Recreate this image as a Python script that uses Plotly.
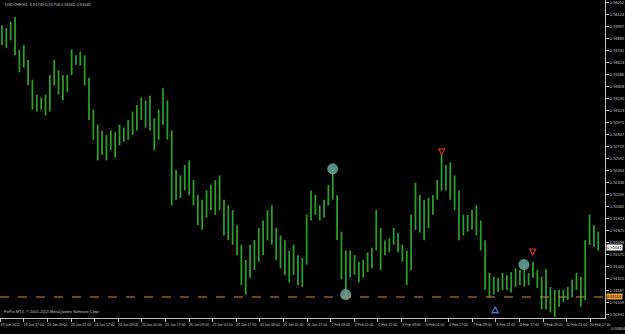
import plotly.graph_objects as go

highs = [0.9401, 0.9398, 0.9405, 0.9410, 0.9375, 0.9380, 0.9364, 0.9343, 0.9327, 0.9324,
         0.9327, 0.9348, 0.9364, 0.9353, 0.9348, 0.9348, 0.9375, 0.9369, 0.9373, 0.9369,
         0.9345, 0.9311, 0.9295, 0.9289, 0.9284, 0.9289, 0.9287, 0.9295, 0.9292, 0.9300,
         0.9309, 0.9316, 0.9324, 0.9321, 0.9326, 0.9302, 0.9311, 0.9334, 0.9321, 0.9289,
         0.9247, 0.9241, 0.9252, 0.9257, 0.9236, 0.9220, 0.9215, 0.9225, 0.9231, 0.9236,
         0.9241, 0.9215, 0.9209, 0.9204, 0.9188, 0.9167, 0.9151, 0.9167, 0.9172, 0.9185,
         0.9193, 0.9204, 0.9209, 0.9185, 0.9177, 0.9172, 0.9161, 0.9167, 0.9156, 0.9153,
         0.9199, 0.9225, 0.9220, 0.9209, 0.9215, 0.9231, 0.9247, 0.9220, 0.9181, 0.9161,
         0.9161, 0.9156, 0.9149, 0.9151, 0.9159, 0.9164, 0.9204, 0.9185, 0.9172, 0.9174,
         0.9185, 0.9180, 0.9167, 0.9161, 0.9199, 0.9233, 0.9220, 0.9215, 0.9217, 0.9220,
         0.9236, 0.9263, 0.9252, 0.9255, 0.9241, 0.9225, 0.9199, 0.9199, 0.9204, 0.9209,
         0.9193, 0.9172, 0.9137, 0.9133, 0.9132, 0.9137, 0.9135, 0.9138, 0.9142, 0.9140,
         0.9146, 0.9137, 0.9149, 0.9140, 0.9133, 0.9141, 0.9122, 0.9119, 0.9119, 0.9119,
         0.9122, 0.9130, 0.9137, 0.9133, 0.9172, 0.9199, 0.9188, 0.9181]
lows = [0.9380, 0.9377, 0.9385, 0.9369, 0.9351, 0.9356, 0.9337, 0.9311, 0.9309, 0.9311,
        0.9305, 0.9309, 0.9337, 0.9327, 0.9321, 0.9330, 0.9348, 0.9359, 0.9358, 0.9337,
        0.9300, 0.9279, 0.9257, 0.9263, 0.9257, 0.9268, 0.9260, 0.9273, 0.9277, 0.9279,
        0.9284, 0.9289, 0.9300, 0.9292, 0.9289, 0.9268, 0.9279, 0.9295, 0.9279, 0.9209,
        0.9215, 0.9217, 0.9225, 0.9220, 0.9209, 0.9188, 0.9183, 0.9196, 0.9204, 0.9199,
        0.9204, 0.9177, 0.9172, 0.9167, 0.9156, 0.9124, 0.9114, 0.9132, 0.9140, 0.9149,
        0.9156, 0.9172, 0.9167, 0.9151, 0.9142, 0.9135, 0.9127, 0.9135, 0.9124, 0.9122,
        0.9146, 0.9193, 0.9199, 0.9193, 0.9196, 0.9209, 0.9215, 0.9172, 0.9130, 0.9111,
        0.9132, 0.9135, 0.9127, 0.9132, 0.9138, 0.9142, 0.9161, 0.9140, 0.9156, 0.9159,
        0.9167, 0.9159, 0.9149, 0.9124, 0.9140, 0.9183, 0.9180, 0.9172, 0.9185, 0.9199,
        0.9215, 0.9225, 0.9225, 0.9215, 0.9204, 0.9172, 0.9177, 0.9181, 0.9183, 0.9177,
        0.9161, 0.9119, 0.9111, 0.9114, 0.9117, 0.9119, 0.9119, 0.9116, 0.9122, 0.9124,
        0.9122, 0.9124, 0.9132, 0.9121, 0.9098, 0.9098, 0.9095, 0.9090, 0.9101, 0.9106,
        0.9108, 0.9111, 0.9119, 0.9101, 0.9108, 0.9167, 0.9165, 0.9161]

time_labels = ["19 Jan 2012", "19 Jan 17:00", "20 Jan 09:00", "23 Jan 01:00", "23 Jan 17:00",
               "24 Jan 09:00", "25 Jan 01:00", "25 Jan 17:00", "26 Jan 09:00", "27 Jan 01:00",
               "27 Jan 17:00", "30 Jan 09:00", "31 Jan 01:00", "31 Jan 17:00", "1 Feb 09:00",
               "2 Feb 01:00", "2 Feb 17:00", "3 Feb 09:00", "6 Feb 01:00", "6 Feb 17:00",
               "7 Feb 09:00", "8 Feb 01:00", "8 Feb 17:00", "9 Feb 09:00", "10 Feb 01:00",
               "10 Feb 17:00"]
time_label_hours = [0, 16, 32, 48, 64, 80, 96, 112, 128, 144, 160, 176, 192, 208, 224,
                    240, 256, 272, 288, 304, 320, 336, 352, 368, 384, 400]

price_ticks = [0.94252, 0.94124, 0.93997, 0.93869, 0.93741, 0.93613, 0.93486, 0.93358,
               0.93230, 0.93103, 0.92975, 0.92847, 0.92719, 0.92592, 0.92464, 0.92336,
               0.92209, 0.92081, 0.91953, 0.91825, 0.91698, 0.91570, 0.91442, 0.91315,
               0.91187, 0.91059, 0.90931]
bottom_price_label = "0.90804"

circle_hours = [225.4, 234.2, 355.0]
circle_prices = [0.9248, 0.9114, 0.9146]
sell_hours = [299.3, 361.0]
sell_prices = [0.9263, 0.9156]
buy_hours = [335.5]
buy_prices = [0.9101]

hline_price = 0.91114
last_close = 0.91641
title_text = "USDCHF,H1  0.91739 0.91758 0.91665 0.91641"
copyright_text = "FxPro MT4, \u00a9 2001-2011 MetaQuotes Software Corp."

# ---- build ----
n = len(highs)
bar_hours = [1.21 + 2.9505 * j for j in range(n)]
bx, by = [], []
for h, hi, lo in zip(bar_hours, highs, lows):
    bx += [h, h, None]
    by += [lo, hi, None]

fig = go.Figure()
fig.add_trace(go.Scatter(x=bx, y=by, mode="lines",
                         line=dict(color="#2c9a2c", width=1.8),
                         hoverinfo="skip", showlegend=False))
fig.add_trace(go.Scatter(x=circle_hours, y=circle_prices, mode="markers",
                         marker=dict(size=11, color="rgba(105,165,155,0.85)",
                                     line=dict(width=0)),
                         showlegend=False, hoverinfo="skip"))
fig.add_trace(go.Scatter(x=sell_hours, y=sell_prices, mode="markers",
                         marker=dict(symbol="arrow-down-open", size=6, color="#c03030",
                                     line=dict(width=1.3, color="#c03030")),
                         showlegend=False, hoverinfo="skip"))
fig.add_trace(go.Scatter(x=buy_hours, y=buy_prices, mode="markers",
                         marker=dict(symbol="arrow-up-open", size=6, color="#4a72c8",
                                     line=dict(width=1.3, color="#4a72c8")),
                         showlegend=False, hoverinfo="skip"))

fig.add_shape(type="line", xref="paper", x0=0, x1=1, yref="y", y0=hline_price, y1=hline_price,
              line=dict(color="#d08a3c", width=1, dash="dash"))

small = dict(family="Liberation Sans, Arial, sans-serif", size=4, color="#c8c8c8")
tiny = dict(family="Liberation Sans, Arial, sans-serif", size=3.5, color="#c8c8c8")

fig.add_annotation(text=title_text, xref="paper", yref="paper", x=3 / 611, y=1 - 5 / 318,
                   xanchor="left", yanchor="middle", showarrow=False, font=small)
fig.add_annotation(text=copyright_text, xref="paper", yref="paper", x=2 / 611, y=1 - 311 / 318,
                   xanchor="left", yanchor="middle", showarrow=False, font=small)
fig.add_annotation(text=f"{last_close:.5f}", xref="paper", yref="y", x=1 + 1 / 611, y=last_close,
                   xanchor="left", yanchor="middle", showarrow=False, bgcolor="#ffffff",
                   borderpad=0, font=dict(family="Liberation Sans, Arial", size=4, color="#000000"))
fig.add_annotation(text=f"{hline_price:.5f}", xref="paper", yref="y", x=1 + 1 / 611, y=hline_price,
                   xanchor="left", yanchor="middle", showarrow=False, bgcolor="#e8a038",
                   borderpad=0, font=dict(family="Liberation Sans, Arial", size=4, color="#000000"))
fig.add_annotation(text=bottom_price_label, xref="paper", yref="paper", x=1 + 4 / 611, y=-10 / 318,
                   xanchor="left", yanchor="middle", showarrow=False, font=small)

fig.update_layout(
    width=625, height=334,
    margin=dict(l=0, r=14, t=0, b=16),
    paper_bgcolor="#000000", plot_bgcolor="#000000",
    showlegend=False,
    xaxis=dict(range=[-0.13, 410.0], tickvals=time_label_hours, ticktext=time_labels,
               tickangle=0, ticks="outside", ticklen=3, tickcolor="#c0c0c0", tickwidth=1,
               showline=True, linecolor="#c0c0c0", linewidth=1,
               showgrid=False, zeroline=False, tickfont=tiny, ticklabelshift=10,
               fixedrange=True),
    yaxis=dict(range=[0.90890, 0.94280], side="right", tickvals=price_ticks,
               ticktext=[f"{v:.5f}" for v in price_ticks],
               ticks="outside", ticklen=3, tickcolor="#c0c0c0", tickwidth=1,
               showline=True, linecolor="#c0c0c0", linewidth=1,
               showgrid=False, zeroline=False, tickfont=small, fixedrange=True),
)

fig.write_html("out.html")
